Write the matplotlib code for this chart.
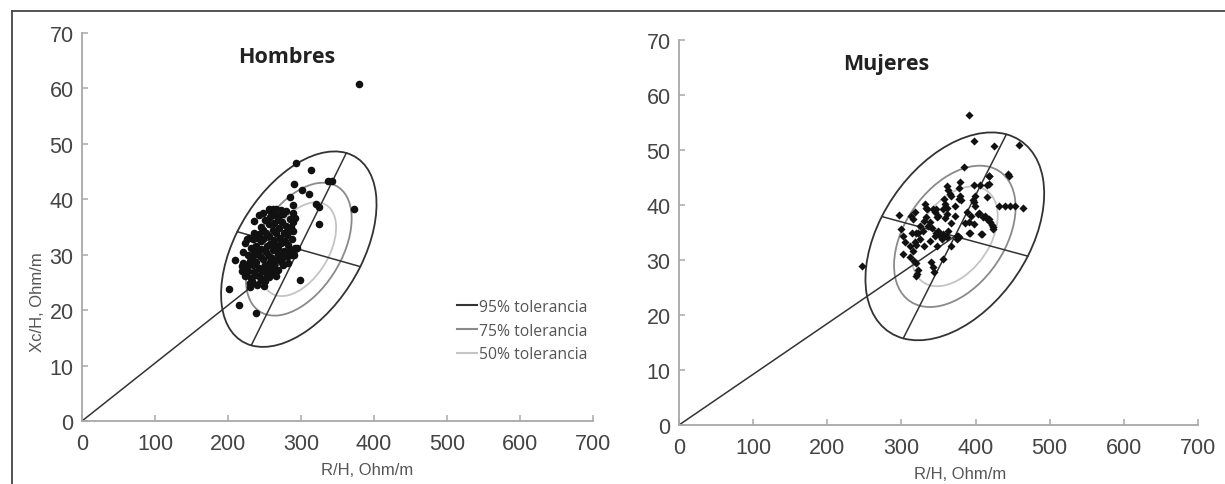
import numpy as np
import matplotlib
matplotlib.use("Agg")
import matplotlib.pyplot as plt
from matplotlib.patches import Circle
from matplotlib.transforms import Affine2D
from matplotlib.lines import Line2D

# ---------------- data ----------------
hombres_x = [379.9, 292.7, 313.2, 336.6, 342.0, 291.0, 301.6, 310.7, 285.1, 289.5,
             320.8, 324.8, 325.3, 372.6, 299.0, 202.0, 209.3, 215.3, 238.3, 242.2,
             255.5, 261.0, 266.3, 272.8, 276.0, 285.2, 289.0, 286.9, 250.0, 255.5,
             263.6, 269.0, 274.4, 247.4, 261.0, 266.3, 277.0, 281.5, 228.5, 234.0,
             239.3, 244.7, 255.5, 263.6, 271.7, 278.2, 288.0, 223.0, 231.2, 238.3,
             244.7, 252.8, 261.0, 269.0, 277.0, 285.2, 292.3, 227.4, 234.0, 240.4,
             247.4, 255.5, 266.3, 274.4, 282.6, 290.7, 220.4, 225.8, 234.0, 242.0,
             250.0, 261.0, 269.0, 276.0, 282.6, 218.8, 224.2, 231.8, 238.3, 229.6,
             230.7, 244.7, 249.0, 251.2, 261.0, 266.3, 289.5, 291.8, 289.5, 294.1,
             257.5, 253.0, 225.6, 221.0, 218.7, 223.3, 232.4, 250.9, 250.9, 245.0,
             252.0, 258.0, 264.0, 270.0, 280.0, 236.0, 242.0, 248.0, 258.0, 266.0,
             273.0, 282.0, 236.0, 244.0, 252.0, 260.0, 268.0, 276.0, 230.0, 238.0,
             246.0, 256.0, 263.0, 272.0, 228.0, 236.0, 243.0, 256.0, 240.0, 235.0,
             248.0, 258.0, 270.0, 280.0, 283.0, 287.0]
hombres_y = [60.8, 46.5, 45.3, 43.3, 43.3, 42.8, 41.7, 40.9, 40.4, 39.0,
             39.2, 38.6, 35.6, 38.3, 25.5, 23.8, 29.1, 21.0, 19.4, 37.1,
             38.3, 38.2, 38.3, 38.0, 37.3, 36.5, 35.9, 35.0, 36.2, 35.6,
             35.8, 36.2, 35.9, 34.5, 34.5, 34.0, 33.9, 33.6, 33.0, 32.8,
             33.1, 32.4, 33.3, 32.7, 33.0, 32.4, 32.8, 32.1, 31.2, 31.5,
             31.0, 31.5, 30.9, 31.2, 30.6, 30.9, 31.2, 30.0, 29.7, 30.3,
             29.2, 29.7, 29.1, 29.4, 29.7, 30.0, 28.5, 27.9, 28.2, 27.6,
             28.2, 27.9, 27.3, 28.2, 28.5, 27.0, 26.4, 25.8, 26.4, 24.9,
             24.1, 25.5, 24.4, 25.2, 26.7, 26.1, 37.6, 36.7, 34.3, 31.3,
             28.7, 28.1, 32.8, 30.4, 28.0, 26.2, 25.3, 25.7, 26.9, 35.0,
             34.0, 36.8, 37.2, 34.8, 35.2, 34.0, 33.8, 32.8, 32.0, 31.6,
             32.2, 31.8, 30.6, 29.8, 30.4, 29.4, 30.2, 29.9, 28.9, 28.6,
             27.0, 27.2, 28.4, 28.8, 27.0, 26.9, 26.2, 26.0, 24.6, 36.0,
             37.6, 37.8, 37.0, 37.8, 34.2, 30.0]

mujeres_x = [391.1, 397.9, 424.9, 458.6, 384.4, 444.2, 445.4, 418.6, 398.3, 406.0,
             415.0, 379.0, 361.0, 363.3, 365.5, 379.0, 378.0, 415.0, 399.2, 397.9,
             399.2, 432.0, 439.6, 446.4, 453.1, 464.3, 388.0, 403.7, 410.5, 415.0,
             419.5, 421.7, 424.0, 397.5, 390.8, 392.5, 408.3, 374.5, 376.8, 297.2,
             246.4, 298.9, 302.5, 304.8, 301.6, 311.1, 315.6, 313.4, 317.9, 315.6,
             324.8, 329.3, 322.5, 331.6, 334.7, 342.9, 345.1, 347.4, 333.8, 338.3,
             340.6, 349.6, 351.9, 345.1, 354.2, 356.5, 357.4, 361.0, 366.4, 363.3,
             324.8, 318.0, 311.1, 320.1, 322.5, 321.2, 319.4, 340.2, 342.9, 343.8,
             356.5, 366.4, 338.3, 347.4, 314.2, 319.5, 319.5, 316.9, 330.1, 335.5,
             330.1, 346.0, 356.7, 362.0, 359.4, 362.0, 359.4, 367.3, 377.9, 380.6,
             372.6, 375.3, 377.9, 372.6, 385.9, 393.8, 396.5, 391.2, 412.4, 417.7,
             423.0, 407.0, 417.7, 417.7, 404.5, 332.8, 348.7, 346.0]
mujeres_y = [56.3, 51.6, 50.8, 50.9, 47.0, 45.6, 45.2, 45.2, 43.6, 43.6,
             43.7, 44.2, 43.4, 42.8, 42.0, 41.7, 41.1, 41.4, 41.7, 40.5,
             39.8, 39.8, 39.8, 39.8, 39.8, 39.4, 38.7, 38.4, 37.8, 37.5,
             37.0, 36.4, 36.0, 36.5, 37.0, 35.0, 34.7, 33.8, 34.4, 38.2,
             29.0, 35.6, 34.4, 33.2, 31.1, 32.6, 31.7, 38.0, 38.7, 37.4,
             36.2, 35.3, 35.0, 40.2, 39.3, 39.3, 38.7, 37.8, 37.9, 37.0,
             35.8, 35.3, 34.4, 34.4, 33.8, 39.3, 41.1, 38.4, 36.8, 35.3,
             33.8, 33.2, 30.6, 29.4, 28.2, 27.5, 27.1, 29.7, 28.7, 27.8,
             30.2, 32.6, 33.5, 32.6, 35.0, 35.0, 32.7, 29.9, 37.1, 36.2,
             32.6, 35.0, 34.7, 34.1, 37.7, 39.5, 40.1, 41.6, 43.1, 41.0,
             39.8, 34.4, 34.1, 38.0, 36.8, 38.0, 41.0, 35.0, 38.0, 37.4,
             35.6, 34.7, 45.3, 43.8, 38.6, 39.5, 38.0, 39.2]

# tolerance ellipses: centre and two conjugate semi-diameters (data units)
hombres_center = [297.0, 31.0]
hombres_axis_a = [65.1, 17.35]
hombres_axis_b = [84.25, -3.15]
mujeres_center = [372.0, 34.3]
mujeres_axis_a = [69.55, 18.55]
mujeres_axis_b = [98.45, -3.6]

tolerance_labels = ["95% tolerancia", "75% tolerancia", "50% tolerancia"]
tolerance_scale = [1.0, 0.68, 0.48]
tolerance_colors = ["#333333", "#8a8a8a", "#c4c4c4"]

x_ticks = [0, 100, 200, 300, 400, 500, 600, 700]
y_ticks = [0, 10, 20, 30, 40, 50, 60, 70]

TICK_FONT = "Liberation Sans"


def draw_panel(ax, xs, ys, center, a, b, marker, msize, title):
    cx, cy = center
    # ellipses
    for k, col in zip(tolerance_scale, tolerance_colors):
        m = Affine2D(np.array([[a[0], b[0], cx], [a[1], b[1], cy], [0, 0, 1]]))
        circ = Circle((0, 0), 1.0, fill=False, edgecolor=col, lw=1.3,
                      transform=Affine2D().scale(k) + m + ax.transData, zorder=2)
        ax.add_patch(circ)
    # axes of the ellipse and line from origin
    ax.plot([cx - a[0], cx + a[0]], [cy - a[1], cy + a[1]], color="#333333", lw=1.1, zorder=2)
    ax.plot([cx - b[0], cx + b[0]], [cy - b[1], cy + b[1]], color="#333333", lw=1.1, zorder=2)
    ax.plot([0, cx], [0, cy], color="#333333", lw=1.1, zorder=2)
    ax.scatter(xs, ys, s=msize, marker=marker, color="#111111", linewidths=0, zorder=3)

    ax.set_xlim(0, 700)
    ax.set_ylim(0, 70)
    ax.set_xticks(x_ticks)
    ax.set_yticks(y_ticks)
    for s in ["top", "right"]:
        ax.spines[s].set_visible(False)
    for s in ["left", "bottom"]:
        ax.spines[s].set_color("#a8a8a8")
        ax.spines[s].set_linewidth(1.3)
    ax.tick_params(axis="both", direction="in", length=4, width=1.1, color="#a8a8a8",
                   labelsize=15.5, labelcolor="#444444")
    ax.tick_params(axis="x", pad=9)
    ax.tick_params(axis="y", pad=6)
    for lab in ax.get_xticklabels() + ax.get_yticklabels():
        lab.set_family(TICK_FONT)
    ax.set_xlabel("R/H, Ohm/m", fontsize=12, color="#555555", family=TICK_FONT)
    ax.text(0.40, 0.94, title, transform=ax.transAxes, ha="center", va="center",
            fontsize=15.5, fontweight="bold", color="#222222", family="Open Sans")
    ax.set_facecolor("none")


fig = plt.figure(figsize=(12.25, 4.85), dpi=100)
fig.patch.set_facecolor("white")

ax1 = fig.add_axes([82 / 1225, 63 / 485, 511 / 1225, 388 / 485])
ax2 = fig.add_axes([679 / 1225, 59 / 485, 519 / 1225, 385 / 485])

draw_panel(ax1, hombres_x, hombres_y, hombres_center, hombres_axis_a, hombres_axis_b,
           "o", 30, "Hombres")
draw_panel(ax2, mujeres_x, mujeres_y, mujeres_center, mujeres_axis_a, mujeres_axis_b,
           "D", 17, "Mujeres")

ax1.set_ylabel("Xc/H, Ohm/m", fontsize=12, color="#555555", family=TICK_FONT)
ax1.yaxis.set_label_coords(-0.088, 0.31)
ax1.yaxis.label.set_va("center")
ax1.xaxis.set_label_coords(0.558, -0.125)
ax1.xaxis.label.set_va("center")
ax2.xaxis.set_label_coords(0.541, -0.125)
ax2.xaxis.label.set_va("center")

handles = [Line2D([0], [0], color=c, lw=1.5) for c in tolerance_colors]
leg = ax1.legend(handles, tolerance_labels, loc="upper left", bbox_to_anchor=(0.734, 0.315),
                 frameon=False, handlelength=1.3, handletextpad=0.1,
                 labelspacing=0.5, borderpad=0, borderaxespad=0,
                 prop={"family": "Open Sans", "size": 11.3})
for t in leg.get_texts():
    t.set_color("#555555")

# figure frame (top and left edges)
fig.add_artist(Line2D([11.5 / 1225, 11.5 / 1225], [0, 1 - 11.5 / 485],
                      transform=fig.transFigure, color="#444444", lw=1.3))
fig.add_artist(Line2D([11.5 / 1225, 1], [1 - 11.5 / 485, 1 - 11.5 / 485],
                      transform=fig.transFigure, color="#444444", lw=1.3))

fig.savefig("out.png", dpi=100, facecolor="white")
